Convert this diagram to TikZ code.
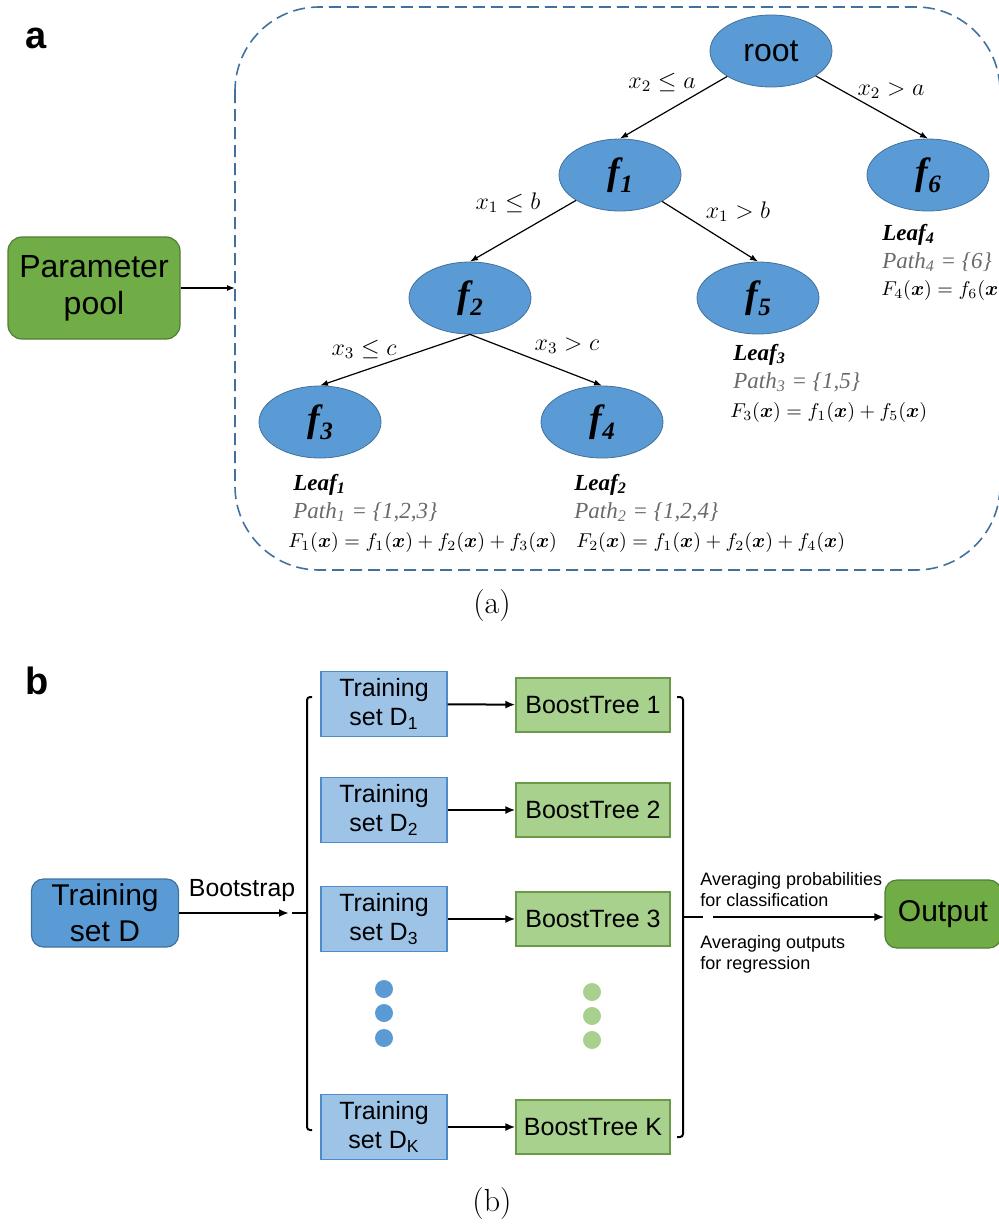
\documentclass[tikz,border=0pt]{standalone}
\usepackage{fontspec}
\usepackage{amsmath,bm}
\usetikzlibrary{arrows.meta,shapes.geometric,positioning}
\newfontfamily\arialfont{Liberation Sans}
\newfontfamily\timesfont{Liberation Serif}
\definecolor{treeblue}{HTML}{5B9BD5}
\definecolor{treeedge}{HTML}{41719C}
\definecolor{poolgreen}{HTML}{70AD47}
\definecolor{pooledge}{HTML}{507E32}
\definecolor{setblue}{HTML}{9DC3E6}
\definecolor{setedge}{HTML}{4F8BC9}
\definecolor{boostgreen}{HTML}{A9D18E}
\definecolor{boostedge}{HTML}{6A9A48}
\definecolor{pathgray}{HTML}{6A6A6A}
\newcommand{\fn}[1]{{\timesfont\bfseries\itshape\fontsize{19}{19}\selectfont
  f\kern0.3pt\raisebox{-4pt}{\fontsize{12.5}{12.5}\selectfont #1}}}
\newcommand{\xb}{\bm{x}}

\begin{document}
\begin{tikzpicture}[x=0.5pt,y=-0.5pt,
  tnode/.style={ellipse,fill=treeblue,draw=treeedge,line width=0.4pt,
    minimum width=61pt,minimum height=36pt,inner sep=0pt},
  tarrow/.style={-{Latex[length=4pt,width=3pt]},line width=0.6pt},
  cond/.style={anchor=base,font=\fontsize{11.5}{12}\selectfont},
  leafname/.style={anchor=base west,inner sep=0pt,
    font=\timesfont\bfseries\itshape\fontsize{11.5}{12}\selectfont},
  leafpath/.style={anchor=base west,inner sep=0pt,text=pathgray,
    font=\timesfont\itshape\fontsize{11.5}{12}\selectfont},
  leaffun/.style={anchor=base west,inner sep=0pt,font=\fontsize{10}{12}\selectfont},
  panel/.style={font=\arialfont\bfseries\fontsize{19}{19}\selectfont},
  caption/.style={font=\fontsize{16}{16}\selectfont},
  setbox/.style={rectangle,fill=setblue,draw=setedge,line width=0.6pt,
    minimum width=63pt,minimum height=32.5pt,inner sep=0pt,align=center,
    font=\arialfont\fontsize{12.5}{14.5}\selectfont},
  boostbox/.style={rectangle,fill=boostgreen,draw=boostedge,line width=0.6pt,
    minimum width=77pt,minimum height=27pt,inner sep=0pt,
    font=\arialfont\fontsize{12.5}{14.5}\selectfont},
  barrow/.style={-{Latex[length=5pt,width=4pt]},line width=1pt},
  bline/.style={line width=1pt,rounded corners=1.5pt},
  note/.style={anchor=west,align=left,inner sep=0pt,
    font=\arialfont\fontsize{9}{10.5}\selectfont}]
\useasboundingbox (0,0) rectangle (999,1227);

% (a) the tree
\node[panel] (pa) at (36,38) {a};
\draw[treeedge,line width=0.8pt,dash pattern=on 6pt off 3pt,rounded corners=42pt]
  (235,7) rectangle (1000,570);
\node[rectangle,rounded corners=7pt,fill=poolgreen,draw=pooledge,line width=0.6pt,
  minimum width=86pt,minimum height=51pt,align=center,
  font=\arialfont\fontsize{16}{18.5}\selectfont] (pool) at (94,288) {Parameter\\pool};
\coordinate (boxin) at (235,288);
\draw[tarrow] (pool) -- (boxin);

\node[tnode,font=\arialfont\fontsize{16}{16}\selectfont] (root) at (771,51) {root};
\node[tnode] (f1) at (620,175) {\fn{1}};
\node[tnode] (f6) at (928,175) {\fn{6}};
\node[tnode] (f2) at (470,298) {\fn{2}};
\node[tnode] (f5) at (758,298) {\fn{5}};
\node[tnode] (f3) at (320,422) {\fn{3}};
\node[tnode] (f4) at (602,422) {\fn{4}};

\draw[tarrow] (root) -- (f1.north);
\draw[tarrow] (root) -- (f6.north);
\draw[tarrow] (f1) -- (f2.north);
\draw[tarrow] (f1) -- (f5.north);
\draw[tarrow] (f2.south) -- (f3.north);
\draw[tarrow] (f2.south) -- (f4.north);

\node[cond] (c1) at (662,88) {$x_2\leq a$};
\node[cond] (c2) at (891,95) {$x_2>a$};
\node[cond] (c3) at (508,209) {$x_1\leq b$};
\node[cond] (c4) at (738,218) {$x_1>b$};
\node[cond] (c5) at (364,355) {$x_3\leq c$};
\node[cond] (c6) at (567,350) {$x_3>c$};

% leaves
\node[leafname] (leafa) at (293,490) {Leaf\textsubscript{1}};
\node[leafpath] (patha) at (293,518) {Path\textsubscript{1} = \{1,2,3\}};
\node[leaffun] (funa) at (288,547) {$F_1(\xb)=f_1(\xb)+f_2(\xb)+f_3(\xb)$};
\node[leafname] (leafb) at (574,490) {Leaf\textsubscript{2}};
\node[leafpath] (pathb) at (574,518) {Path\textsubscript{2} = \{1,2,4\}};
\node[leaffun] (funb) at (576,547) {$F_2(\xb)=f_1(\xb)+f_2(\xb)+f_4(\xb)$};
\node[leafname] (leafc) at (733,360) {Leaf\textsubscript{3}};
\node[leafpath] (pathc) at (733,388) {Path\textsubscript{3} = \{1,5\}};
\node[leaffun] (func) at (730,417) {$F_3(\xb)=f_1(\xb)+f_5(\xb)$};
\node[leafname] (leafd) at (882,240) {Leaf\textsubscript{4}};
\node[leafpath] (pathd) at (882,268) {Path\textsubscript{4} = \{6\}};
\node[leaffun] (fund) at (881,295) {$F_4(\xb)=f_6(\xb)$};

\node[caption] (capa) at (492,606) {(a)};

% (b) bagging of boosted trees
\node[panel] (pb) at (37,681) {b};
\node[rectangle,rounded corners=6pt,fill=treeblue,draw=treeedge,line width=0.6pt,
  minimum width=73.5pt,minimum height=34pt,inner sep=0pt,align=center,
  font=\arialfont\fontsize{15}{18}\selectfont] (trainD) at (105,913) {Training\\set D};
\coordinate (bootend) at (289,913);
\draw[barrow] (trainD) -- node[above=2pt,xshift=4pt,font=\arialfont\fontsize{12.4}{14}\selectfont]{Bootstrap} (bootend);
\draw[bline] (312,697) -- (307,697) -- (307,1130) -- (312,1130);
\draw[bline] (292,913) -- (307,913);

\node[setbox] (d1) at (384,704) {Training\\set D\textsubscript{1}};
\node[setbox] (d2) at (384,810) {Training\\set D\textsubscript{2}};
\node[setbox] (d3) at (384,919) {Training\\set D\textsubscript{3}};
\node[setbox] (dk) at (384,1127) {Training\\set D\textsubscript{K}};
\node[boostbox] (t1) at (593,705) {BoostTree 1};
\node[boostbox] (t2) at (593,810) {BoostTree 2};
\node[boostbox] (t3) at (593,919) {BoostTree 3};
\node[boostbox] (tk) at (593,1127) {BoostTree K};
\draw[barrow] (d1) -- (t1);
\draw[barrow] (d2) -- (t2);
\draw[barrow] (d3) -- (t3);
\draw[barrow] (dk) -- (tk);

\fill[treeblue] (384,989) circle (4.5pt) (384,1013) circle (4.5pt) (384,1038) circle (4.5pt);
\fill[boostgreen] (592,992) circle (4.5pt) (592,1016) circle (4.5pt) (592,1040) circle (4.5pt);

\draw[bline] (677,697) -- (683,697) -- (683,1137) -- (677,1137);
\draw[bline] (683,917) -- (703,917);
\node[rectangle,rounded corners=6pt,fill=poolgreen,draw=pooledge,line width=0.6pt,
  minimum width=58pt,minimum height=34pt,inner sep=0pt,
  font=\arialfont\fontsize{15}{15}\selectfont] (out) at (943,914) {Output};
\coordinate (avg) at (713,917);
\draw[barrow] (avg) -- (out.west |- avg);
\node[note] (cls) at (700,890) {Averaging probabilities\\for classification};
\node[note] (reg) at (700,954) {Averaging outputs\\for regression};

\node[caption] (capb) at (492,1203) {(b)};
\end{tikzpicture}
\end{document}
